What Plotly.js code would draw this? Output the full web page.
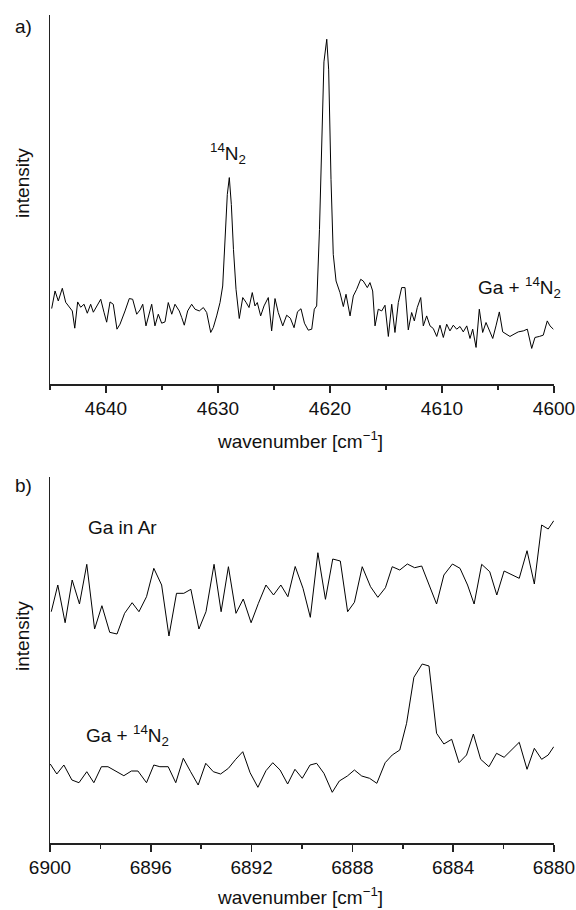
<!DOCTYPE html>
<html>
<head>
<meta charset="utf-8">
<script src="https://cdn.plot.ly/plotly-3.0.1.min.js"></script>
<style>
html,body{margin:0;padding:0;background:#fff;}
#chart{width:576px;height:910px;}
</style>
</head>
<body>
<div id="chart"></div>
<script>
// Panel a: Ga + 14N2, region 4645-4600 cm-1
const a_wavenumber = [4644.85,4644.55,4644.26,4643.90,4643.60,4643.21,4643.01,4642.79,4642.53,4642.26,4641.96,4641.67,4641.37,4641.13,4640.78,4640.47,4640.18,4639.94,4639.64,4639.35,4639.02,4638.75,4638.30,4637.92,4637.62,4637.26,4636.96,4636.72,4636.43,4636.22,4635.92,4635.63,4635.33,4635.03,4634.73,4634.44,4634.13,4633.84,4633.46,4633.24,4633.01,4632.71,4632.35,4632.05,4631.67,4631.31,4631.01,4630.65,4630.42,4630.12,4629.82,4629.58,4629.35,4629.17,4628.99,4628.81,4628.62,4628.39,4628.10,4627.79,4627.50,4627.23,4626.94,4626.70,4626.49,4626.19,4625.89,4625.51,4625.21,4624.91,4624.62,4624.22,4623.87,4623.54,4623.21,4622.90,4622.59,4622.28,4621.94,4621.63,4621.40,4621.19,4620.94,4620.71,4620.54,4620.29,4620.12,4619.91,4619.71,4619.46,4619.11,4618.81,4618.57,4618.21,4617.92,4617.62,4617.26,4617.03,4616.67,4616.43,4616.19,4615.98,4615.69,4615.38,4615.09,4614.79,4614.49,4614.20,4613.90,4613.60,4613.30,4613.01,4612.71,4612.47,4612.21,4611.90,4611.67,4611.37,4611.07,4610.78,4610.47,4610.18,4609.88,4609.58,4609.29,4608.99,4608.69,4608.39,4608.10,4607.79,4607.50,4607.26,4606.96,4606.67,4606.37,4606.07,4605.78,4605.47,4605.18,4604.88,4604.58,4604.29,4603.93,4603.57,4603.19,4602.74,4602.38,4601.99,4601.70,4601.31,4600.96,4600.60,4600.36,4600.06];
const a_intensity = [75.7,93.3,83.3,96,82,77,73.3,56,82.3,77,80,71,80,72,78.3,85,72,62,82.3,80,55,60,73.3,85.7,85,70,74.3,80,58.3,68.3,80,58.3,70,61,62.3,81.7,70,80,73.3,66.7,59,73.3,80,75,73.3,76.7,71.7,51.7,56.7,68.3,81.7,98.3,145,190,207,180,135,95,65.7,86.7,82,76.7,91.7,78.3,81.7,68.3,78.3,86.7,53.3,85.7,71.7,58.3,69,66,56.5,72.5,75.5,61,54,55,75,78.3,155,265,323,345.7,315,205,130,103.3,91.7,77.7,90,68.3,88.3,95,105,103.3,96.7,101.7,93.3,58.3,75,73.3,79,47.7,80,51.7,81.7,96.7,96.7,54.3,71.7,63.3,76.7,86.7,58.3,68.3,58.3,55.7,47.7,59,46.7,60,53.3,59,55,57.7,52.3,58.3,45.7,55,36.7,75,51.7,61.7,53.3,45.7,58.3,72.3,52.3,50,47.7,50,52.3,53.3,55,35.7,46.7,47.7,49,63.3,58.3,55];

// Panel b: Ga in Ar (upper trace)
const b_wavenumber_ar = [6899.95,6899.69,6899.40,6899.12,6898.83,6898.54,6898.23,6897.94,6897.63,6897.34,6897.04,6896.74,6896.47,6896.17,6895.88,6895.57,6895.28,6894.98,6894.69,6894.41,6894.09,6893.81,6893.49,6893.21,6892.92,6892.62,6892.33,6892.02,6891.73,6891.43,6891.13,6890.84,6890.56,6890.27,6889.96,6889.67,6889.37,6889.07,6888.78,6888.48,6888.19,6887.92,6887.61,6887.28,6886.99,6886.69,6886.42,6886.12,6885.82,6885.53,6885.25,6884.66,6884.37,6884.03,6883.73,6883.43,6883.17,6882.87,6882.55,6882.27,6881.98,6881.68,6881.38,6881.07,6880.78,6880.49,6880.23,6880.01];
const b_intensity_ar = [231.3,258,220.3,263,239,278.7,214,237.3,210.7,209,229.7,240.3,231.3,246.3,274.7,258,207,249.7,249.7,253.7,214,231.3,278.7,231.3,276.3,229.7,244,220.3,239.7,258,248,258,246.3,276.5,254.7,225.7,290.3,243.7,284,282,231.3,240.7,276.3,256.3,245.7,255.3,276.3,273,279,275.3,277,239,268,279,274.7,258,239,278.7,271.3,248,272,268,264.7,292.3,259,318,314,322.3];

// Panel b: Ga + 14N2 (lower trace)
const b_wavenumber_n2 = [6899.99,6899.73,6899.45,6899.13,6898.85,6898.54,6898.26,6897.96,6897.70,6897.37,6897.07,6896.77,6896.51,6896.17,6895.88,6895.64,6895.31,6895.01,6894.71,6894.42,6894.12,6893.82,6893.52,6893.23,6892.92,6892.63,6892.35,6892.06,6891.75,6891.43,6891.16,6890.87,6890.57,6890.28,6889.99,6889.68,6889.42,6889.13,6888.80,6888.52,6888.20,6887.92,6887.63,6887.32,6887.03,6886.70,6886.42,6886.12,6885.85,6885.56,6885.23,6884.96,6884.66,6884.37,6884.06,6883.77,6883.47,6883.20,6882.91,6882.58,6882.28,6881.98,6881.68,6881.38,6881.07,6880.78,6880.49,6880.23,6880.01];
const b_intensity_n2 = [79,69,78,63,60.3,71.3,60.3,76.3,76.3,72,67.3,72,72,60.3,78,76.3,76.3,60.3,84.7,71.3,58,79.7,71.3,69,74.7,83.7,91.3,70.3,55.7,72.3,80.3,73,59,73.7,64.7,78,79.7,69.7,50.7,62,67,73,67,64.7,59.7,80.3,88,93,119.7,165.7,179,177,109.7,99,103.7,80.3,88,109,83.7,76.3,89.7,85.7,93,100.7,73.7,94.7,83.7,88,96.3];

// Ticks
const a_ticks = [4640,4630,4620,4610,4600];
const b_ticks = [6900,6896,6892,6888,6884,6880];

const FONT = 'Liberation Sans, Arial, Helvetica, sans-serif';
const INK = '#111';

const lineStyle = {color:'#000', width:1};
const traces = [
  {x:a_wavenumber, y:a_intensity, xaxis:'x', yaxis:'y', mode:'lines', line:lineStyle, hoverinfo:'skip'},
  {x:b_wavenumber_ar, y:b_intensity_ar, xaxis:'x2', yaxis:'y2', mode:'lines', line:lineStyle, hoverinfo:'skip'},
  {x:b_wavenumber_n2, y:b_intensity_n2, xaxis:'x2', yaxis:'y2', mode:'lines', line:lineStyle, hoverinfo:'skip'}
];

const xBase = {
  showline:true, linecolor:'#222', linewidth:1.5, showgrid:false, zeroline:false,
  ticks:'outside', ticklen:7, tickwidth:1.5, tickcolor:'#222',
  tickfont:{family:FONT, size:19, color:INK}, tickmode:'array',
  mirror:false
};
const yBase = {
  showline:true, linecolor:'#222', linewidth:1.5, showgrid:false, zeroline:false,
  ticks:'', showticklabels:false
};

const annFont = {family:FONT, size:19, color:INK};
const layout = {
  width:576, height:910,
  margin:{l:50, r:22, t:15, b:67},
  paper_bgcolor:'#fff', plot_bgcolor:'#fff',
  showlegend:false,
  xaxis: Object.assign({}, xBase, {anchor:'y', range:[4645,4600], tickvals:a_ticks,
    minor:{ticks:'outside', ticklen:4, tickwidth:1.5, tickcolor:'#222', dtick:5, tick0:4600}}),
  yaxis: Object.assign({}, yBase, {anchor:'x', domain:[0.5543,1], range:[0,370]}),
  xaxis2: Object.assign({}, xBase, {anchor:'y2', range:[6900,6880], tickvals:b_ticks,
    minor:{ticks:'outside', ticklen:4, tickwidth:1.5, tickcolor:'#222', dtick:2, tick0:6880}}),
  yaxis2: Object.assign({}, yBase, {anchor:'x2', domain:[0,0.442], range:[0,366]}),
  annotations:[
    {xref:'paper', yref:'paper', x:-0.0516, y:0.9867, text:'a)', showarrow:false, font:annFont, xanchor:'center', yanchor:'middle'},
    {xref:'paper', yref:'paper', x:-0.0516, y:0.4312, text:'b)', showarrow:false, font:annFont, xanchor:'center', yanchor:'middle'},
    {xref:'paper', yref:'paper', x:-0.0556, y:0.7971, text:'intensity', textangle:-90, showarrow:false, font:annFont, xanchor:'center', yanchor:'middle'},
    {xref:'paper', yref:'paper', x:-0.0556, y:0.25, text:'intensity', textangle:-90, showarrow:false, font:annFont, xanchor:'center', yanchor:'middle'},
    {xref:'paper', yref:'paper', x:0.496, y:0.4867, text:'wavenumber [cm<sup>\u22121</sup>]', showarrow:false, font:annFont, xanchor:'center', yanchor:'middle'},
    {xref:'paper', yref:'paper', x:0.496, y:-0.0645, text:'wavenumber [cm<sup>\u22121</sup>]', showarrow:false, font:annFont, xanchor:'center', yanchor:'middle'},
    {xref:'paper', yref:'paper', x:0.3532, y:0.8333, text:'<sup>14</sup>N<sub>2</sub>', showarrow:false, font:annFont, xanchor:'center', yanchor:'middle'},
    {xref:'paper', yref:'paper', x:1.0179, y:0.6703, text:'Ga + <sup>14</sup>N<sub>2</sub>', showarrow:false, font:annFont, xanchor:'right', yanchor:'middle'},
    {xref:'paper', yref:'paper', x:0.1448, y:0.3816, text:'Ga in Ar', showarrow:false, font:annFont, xanchor:'center', yanchor:'middle'},
    {xref:'paper', yref:'paper', x:0.1538, y:0.1298, text:'Ga + <sup>14</sup>N<sub>2</sub>', showarrow:false, font:annFont, xanchor:'center', yanchor:'middle'}
  ]
};

Plotly.newPlot('chart', traces, layout, {staticPlot:true, displayModeBar:false});
</script>
</body>
</html>
